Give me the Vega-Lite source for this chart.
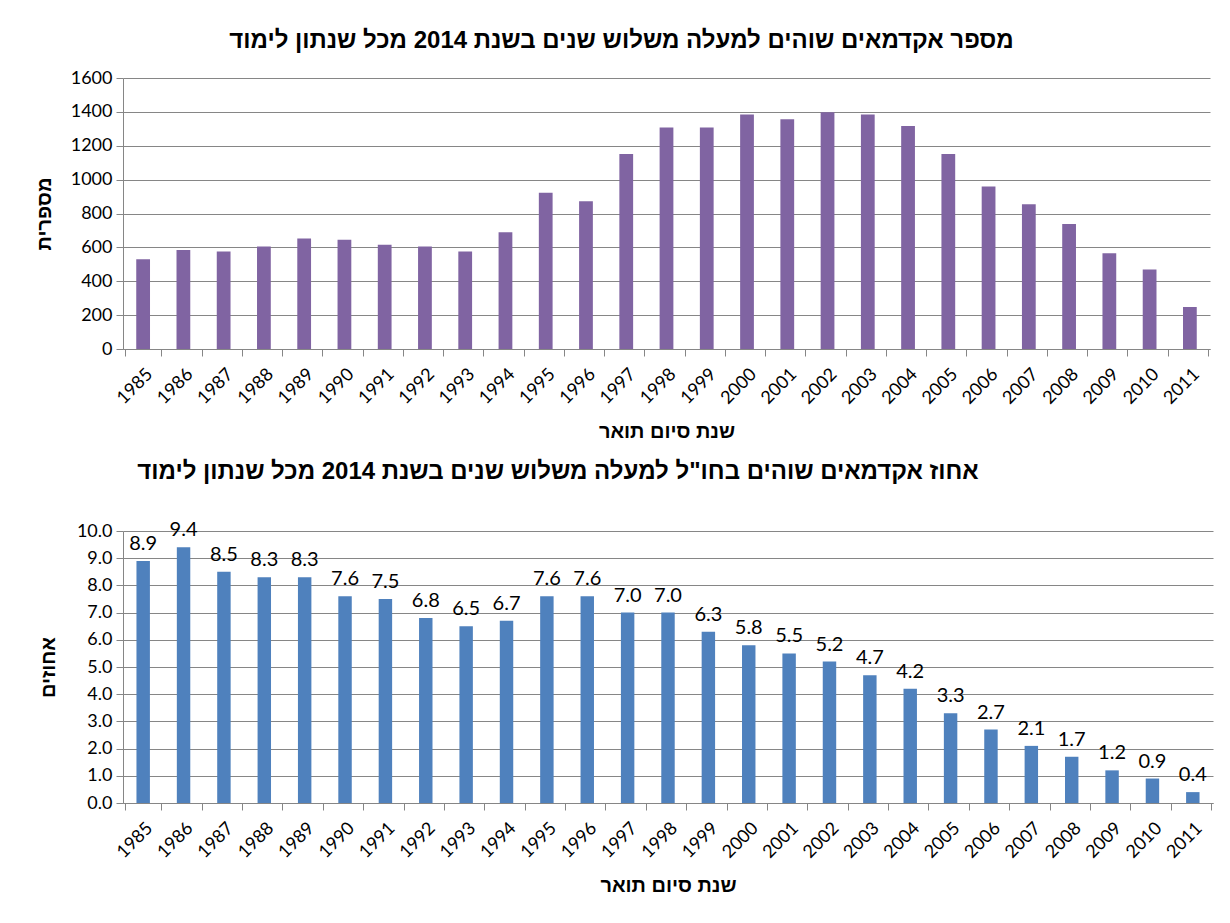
{
  "$schema": "https://vega.github.io/schema/vega-lite/v6.json",
  "background": "white",
  "padding": {"top": 29, "left": 34, "right": 20, "bottom": 10},
  "spacing": 18,
  "data": {"values": [
    {"year": "1985", "count": 530, "pct": 8.9},
    {"year": "1986", "count": 585, "pct": 9.4},
    {"year": "1987", "count": 575, "pct": 8.5},
    {"year": "1988", "count": 605, "pct": 8.3},
    {"year": "1989", "count": 653, "pct": 8.3},
    {"year": "1990", "count": 645, "pct": 7.6},
    {"year": "1991", "count": 615, "pct": 7.5},
    {"year": "1992", "count": 605, "pct": 6.8},
    {"year": "1993", "count": 575, "pct": 6.5},
    {"year": "1994", "count": 690, "pct": 6.7},
    {"year": "1995", "count": 922, "pct": 7.6},
    {"year": "1996", "count": 873, "pct": 7.6},
    {"year": "1997", "count": 1152, "pct": 7.0},
    {"year": "1998", "count": 1308, "pct": 7.0},
    {"year": "1999", "count": 1308, "pct": 6.3},
    {"year": "2000", "count": 1385, "pct": 5.8},
    {"year": "2001", "count": 1356, "pct": 5.5},
    {"year": "2002", "count": 1398, "pct": 5.2},
    {"year": "2003", "count": 1385, "pct": 4.7},
    {"year": "2004", "count": 1317, "pct": 4.2},
    {"year": "2005", "count": 1152, "pct": 3.3},
    {"year": "2006", "count": 960, "pct": 2.7},
    {"year": "2007", "count": 855, "pct": 2.1},
    {"year": "2008", "count": 738, "pct": 1.7},
    {"year": "2009", "count": 566, "pct": 1.2},
    {"year": "2010", "count": 470, "pct": 0.9},
    {"year": "2011", "count": 248, "pct": 0.4}
  ]},
  "vconcat": [
    {
      "width": 1087,
      "height": 271,
      "title": {"text": "מספר אקדמאים שוהים למעלה משלוש שנים בשנת 2014  מכל שנתון לימוד", "dx": -45, "offset": 16},
      "mark": {"type": "bar", "color": "#8064A2", "width": {"band": 0.38}},
      "encoding": {
        "x": {"field": "year", "type": "ordinal", "title": "שנת סיום תואר",
              "axis": {"labelAngle": -45, "tickBand": "extent"}},
        "y": {"field": "count", "type": "quantitative", "title": "מספרית",
              "scale": {"domain": [0, 1600]},
              "axis": {"values": [0, 200, 400, 600, 800, 1000, 1200, 1400, 1600], "format": "d", "titlePadding": 16}}
      }
    },
    {
      "width": 1090,
      "height": 272,
      "title": {"text": "אחוז אקדמאים שוהים בחו\"ל למעלה משלוש שנים בשנת 2014 מכל שנתון לימוד", "dx": -110, "offset": 36},
      "encoding": {
        "x": {"field": "year", "type": "ordinal", "title": "שנת סיום תואר",
              "axis": {"labelAngle": -45, "tickBand": "extent"}},
        "y": {"field": "pct", "type": "quantitative", "title": "אחוזים",
              "scale": {"domain": [0, 10]},
              "axis": {"values": [0, 1, 2, 3, 4, 5, 6, 7, 8, 9, 10], "format": ".1f", "titlePadding": 18}}
      },
      "layer": [
        {"mark": {"type": "bar", "color": "#4F81BD", "width": {"band": 0.37}}},
        {"mark": {"type": "text", "baseline": "bottom", "dy": -7, "font": "Lato", "fontSize": 20, "color": "#000000"},
         "encoding": {"text": {"field": "pct", "type": "quantitative", "format": ".1f"}}}
      ]
    }
  ],
  "config": {
    "view": {"stroke": null},
    "title": {"font": "Liberation Sans", "fontSize": 24, "fontWeight": "bold", "color": "#000000", "anchor": "middle"},
    "axis": {
      "labelFont": "Lato", "labelFontSize": 18, "labelColor": "#000000",
      "titleFont": "Liberation Sans", "titleFontSize": 20, "titleFontWeight": "bold", "titleColor": "#000000",
      "domainColor": "#868686", "tickColor": "#868686", "gridColor": "#868686",
      "tickSize": 7, "labelPadding": 4
    },
    "axisX": {"grid": false, "labelPadding": 9, "titlePadding": 14},
    "axisY": {"grid": true, "labelPadding": 4}
  }
}
